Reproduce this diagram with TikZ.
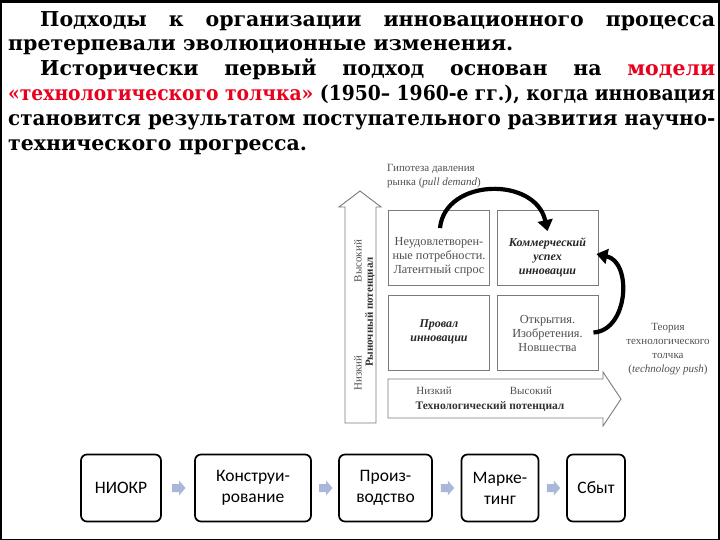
\documentclass[tikz,border=0pt]{standalone}
\usepackage{fontspec}
\setmainfont{DejaVu Serif}
\newfontfamily\dfont{Liberation Serif}
\newfontfamily\cfont{Carlito}
\usetikzlibrary{arrows.meta,calc}
\definecolor{redtxt}{HTML}{E8001C}
\definecolor{dgray}{HTML}{505050}
\definecolor{lgray}{HTML}{7A7A7A}
\definecolor{lblue}{HTML}{A9B8D9}
\newcommand\jline[2]{\sbox0{#2}\ifdim\wd0>#1\relax\resizebox{#1}{\ht0}{#2}\else\makebox[#1][s]{#2}\fi}
\tikzset{
  mtxt/.style={anchor=base west, inner sep=0pt, font=\bfseries\fontsize{20.5}{24}\selectfont},
  dtext/.style={inner sep=0pt, text=dgray, font=\dfont\fontsize{11}{14}\selectfont},
  gbox/.style={draw=lgray, line width=0.9pt, fill=white, minimum width=101pt, minimum height=75pt, inner sep=0pt},
  gtext/.style={inner sep=0pt, align=center, text=dgray, font=\dfont\fontsize{12.3}{14}\selectfont},
  gbold/.style={gtext, text=black!85, font=\dfont\bfseries\itshape\fontsize{12}{14}\selectfont},
  bigarrow/.style={draw=lgray, line width=0.9pt, fill=white},
  curv/.style={line width=4.2pt, -{Triangle[length=11pt,width=15pt]}},
  proc/.style={draw, line width=1.7pt, rounded corners=6pt, minimum height=67pt, inner sep=0pt, align=center, font=\cfont\fontsize{17.5}{21}\selectfont},
  blarr/.pic={\fill[lblue] (-6,-4) -- (1,-4) -- (1,-7.5) -- (7.5,0) -- (1,7.5) -- (1,4) -- (-6,4) -- cycle;}
}
\begin{document}
\begin{tikzpicture}[x=1pt,y=-1pt]
\useasboundingbox (0,0) rectangle (720,540);
\fill[black] (0,0) rectangle (720,540);
\fill[white] (2,3) rectangle (718,539);

% text block
\node[mtxt] (l1) at (40,27) {\jline{675pt}{Подходы к организации инновационного процесса}};
\node[mtxt] (l2) at (8,51) {претерпевали эволюционные изменения.};
\node[mtxt] (l3) at (40,76) {\jline{675pt}{Исторически первый подход основан на {\color{redtxt}модели}}};
\node[mtxt] (l4) at (8,101) {\jline{707pt}{{\color{redtxt}«технологического толчка»} (1950– 1960-е гг.), когда инновация}};
\node[mtxt] (l5) at (8,126) {\jline{707pt}{становится результатом поступательного развития научно-}};
\node[mtxt] (l6) at (8,151) {технического прогресса.};

% big vertical arrow
\draw[bigarrow] (345,423) -- (345,207) -- (339,207) -- (360,191) -- (381,207) -- (376,207) -- (376,423) -- cycle;
\node[dtext, rotate=90] (vlo) at (358,373) {Низкий};
\node[dtext, rotate=90] (vhi) at (358,261) {Высокий};
\node[dtext, rotate=90, font=\dfont\bfseries\fontsize{11}{14}\selectfont, text=black!80] (vlab) at (370,312) {Рыночный потенциал};

% big horizontal arrow
\draw[bigarrow] (388,379) -- (603,379) -- (603,372) -- (621,399) -- (603,426) -- (603,418) -- (388,418) -- cycle;
\node[dtext] (hlo) at (434,391) {Низкий};
\node[dtext] (hhi) at (531,391) {Высокий};
\node[dtext, font=\dfont\bfseries\fontsize{11.5}{14}\selectfont, text=black!80] (hlab) at (490,407) {Технологический потенциал};

% grid
\node[gbox] (tl) at (439,248) {};
\node[gbox] (tr) at (547.5,248) {};
\node[gbox] (bl) at (439,332.5) {};
\node[gbox] (br) at (547.5,332.5) {};
\node[gtext] (tlt) at (439,257) {Неудовлетворен-\\ные потребности.\\Латентный спрос};
\node[gbold] (trt) at (547.5,257) {Коммерческий\\успех\\инновации};
\node[gbold] (blt) at (439,332) {Провал\\инновации};
\node[gtext] (brt) at (547.5,333) {Открытия.\\Изобретения.\\Новшества};

\node[dtext, align=left, anchor=north west] (hyp) at (387,164) {Гипотеза давления\\рынка (\textit{pull demand})};
\node[dtext, align=center] (th) at (668,349) {Теория\\технологического\\толчка\\(\textit{technology push})};

% curved arrows
\draw[curv] ($(tl.north)+(1,18)$) .. controls ($(tl.north)+(6,-32)$) and ($(tr.north)+(-12,-34)$) .. ($(tr.north)+(0,21)$);
\draw[curv] ($(br.east)+(-5,0)$) .. controls ($(br.east)+(30,-2)$) and ($(tr.east)+(34,14)$) .. ($(tr.east)+(-2,6)$);

% process chain
\node[proc, minimum width=80pt] (p1) at (121,488) {НИОКР};
\node[proc, minimum width=116pt] (p2) at (253,488) {Конструи-\\рование};
\node[proc, minimum width=93pt] (p3) at (385.5,488) {Произ-\\водство};
\node[proc, minimum width=77pt] (p4) at (500,488) {Марке-\\тинг};
\node[proc, minimum width=58pt] (p5) at (596,488) {Сбыт};
\pic at ($(p1.east)!0.5!(p2.west)$) {blarr};
\pic at ($(p2.east)!0.5!(p3.west)$) {blarr};
\pic at ($(p3.east)!0.5!(p4.west)$) {blarr};
\pic at ($(p4.east)!0.5!(p5.west)$) {blarr};
\end{tikzpicture}
\end{document}
